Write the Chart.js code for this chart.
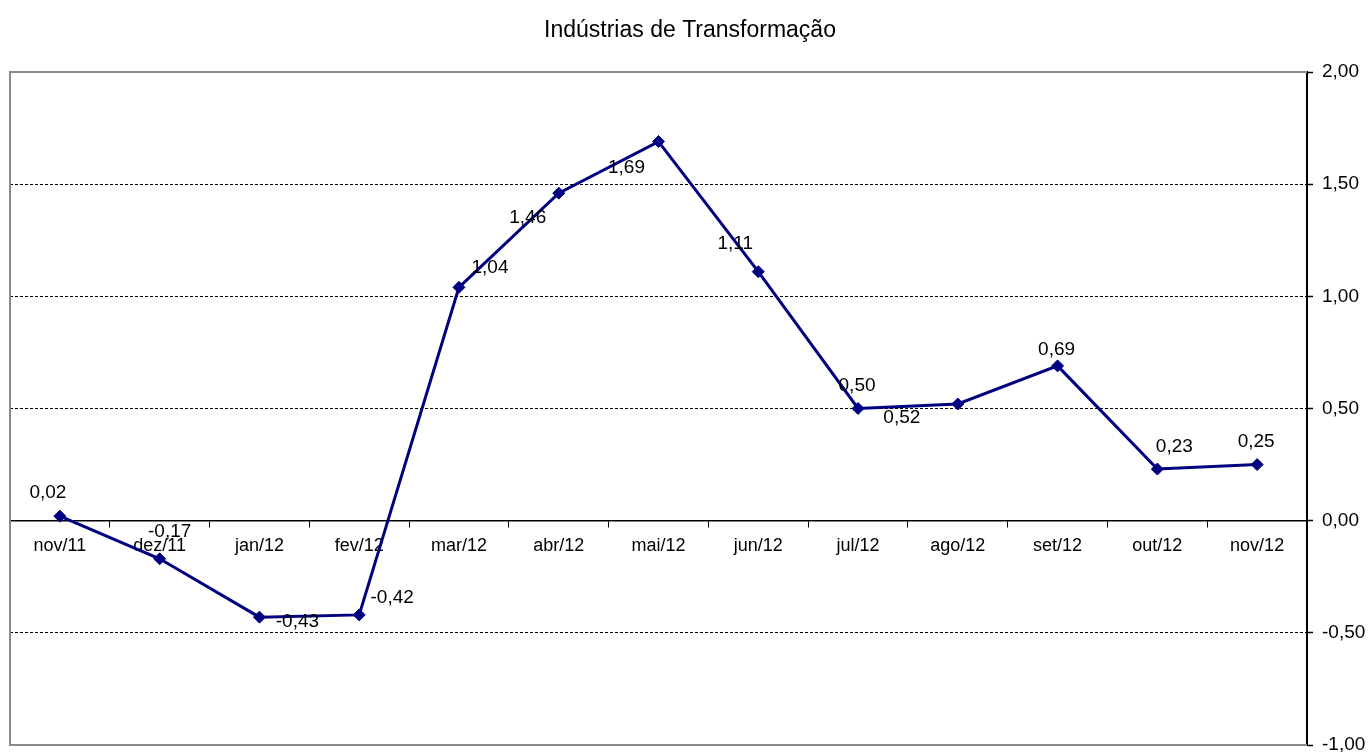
<!DOCTYPE html>
<html>
<head>
<meta charset="utf-8">
<script src="https://cdn.jsdelivr.net/npm/chart.js@4"></script>
<style>
html,body{margin:0;padding:0;background:#fff;}
#wrap{width:1370px;height:752px;}
</style>
</head>
<body>
<div id="wrap"><canvas id="c" width="1370" height="752"></canvas></div>
<script>
const categories = ['nov/11','dez/11','jan/12','fev/12','mar/12','abr/12','mai/12','jun/12','jul/12','ago/12','set/12','out/12','nov/12'];
const values = [0.02, -0.17, -0.43, -0.42, 1.04, 1.46, 1.69, 1.11, 0.50, 0.52, 0.69, 0.23, 0.25];
const yTicks = [-1, -0.5, 0, 0.5, 1, 1.5, 2];
const title = 'Indústrias de Transformação';
// label offsets (px) relative to each point
const labelOffsets = [[-12,-23],[10,-27],[38,5],[33,-17],[31,-20],[-31,25],[-32,26],[-23,-28],[-1,-23],[-56,14],[-1,-16],[17,-22],[-1,-23]];

const FONT = "Arial, 'Liberation Sans', sans-serif";
const fmt = v => v.toFixed(2).replace('.', ',');

const frame = {
  id: 'frame',
  beforeDatasetsDraw(chart) {
    const {ctx, chartArea: a} = chart;
    ctx.save();
    ctx.strokeStyle = '#8a8a8a';
    ctx.lineWidth = 2;
    ctx.beginPath();
    ctx.moveTo(a.right, a.top); ctx.lineTo(a.left, a.top);
    ctx.lineTo(a.left, a.bottom); ctx.lineTo(a.right, a.bottom);
    ctx.stroke();
    ctx.restore();
  }
};

const dataLabels = {
  id: 'dataLabels',
  afterDatasetsDraw(chart) {
    const {ctx} = chart;
    const meta = chart.getDatasetMeta(0);
    ctx.save();
    ctx.font = '19px ' + FONT;
    ctx.fillStyle = '#000';
    ctx.textAlign = 'center';
    ctx.textBaseline = 'middle';
    meta.data.forEach((pt, i) => {
      const o = labelOffsets[i];
      ctx.fillText(fmt(values[i]), pt.x + o[0], pt.y + o[1]);
    });
    ctx.restore();
  }
};

new Chart(document.getElementById('c'), {
  type: 'line',
  data: {
    labels: categories,
    datasets: [{
      data: values,
      borderColor: '#000080',
      backgroundColor: '#000080',
      borderWidth: 3,
      pointStyle: 'rectRot',
      pointRadius: 6,
      pointBorderWidth: 1,
      tension: 0,
      fill: false
    }]
  },
  options: {
    responsive: false,
    animation: false,
    events: [],
    layout: { padding: { top: 0, left: 10, right: 0, bottom: 7 } },
    plugins: {
      legend: { display: false },
      tooltip: { enabled: false },
      title: {
        display: true,
        text: title,
        color: '#000',
        font: { family: FONT, size: 23, weight: 'normal' },
        padding: { top: 17, bottom: 27.4 }
      }
    },
    scales: {
      x: {
        type: 'category',
        position: { y: 0 },
        offset: true,
        grid: {
          display: true,
          drawOnChartArea: false,
          drawTicks: true,
          tickLength: 6,
          tickColor: '#000',
          tickWidth: 1,
          offset: true
        },
        border: { display: true, color: '#000', width: 1.5 },
        ticks: {
          color: '#000',
          font: { family: FONT, size: 18 },
          padding: 9,
          maxRotation: 0,
          autoSkip: false
        },
        afterFit(s) { s.height = 0; s.paddingLeft = 0; s.paddingRight = 0; }
      },
      y: {
        position: 'right',
        min: -1,
        max: 2,
        afterBuildTicks(s) { s.ticks = yTicks.map(v => ({ value: v })); },
        grid: {
          color: c => (c.tick && (c.tick.value === 2 || c.tick.value === -1 || c.tick.value === 0)) ? 'rgba(0,0,0,0)' : '#000',
          lineWidth: 1,
          drawTicks: true,
          tickLength: 6,
          tickColor: '#000',
          tickWidth: 1.5
        },
        border: { display: true, color: '#000', width: 2, dash: [3, 2] },
        ticks: {
          color: '#000',
          font: { family: FONT, size: 19 },
          padding: 9,
          callback: v => fmt(v)
        },
        afterFit(s) { s.width = 63; s.paddingTop = 0; s.paddingBottom = 0; }
      }
    }
  },
  plugins: [frame, dataLabels]
});
</script>
</body>
</html>
